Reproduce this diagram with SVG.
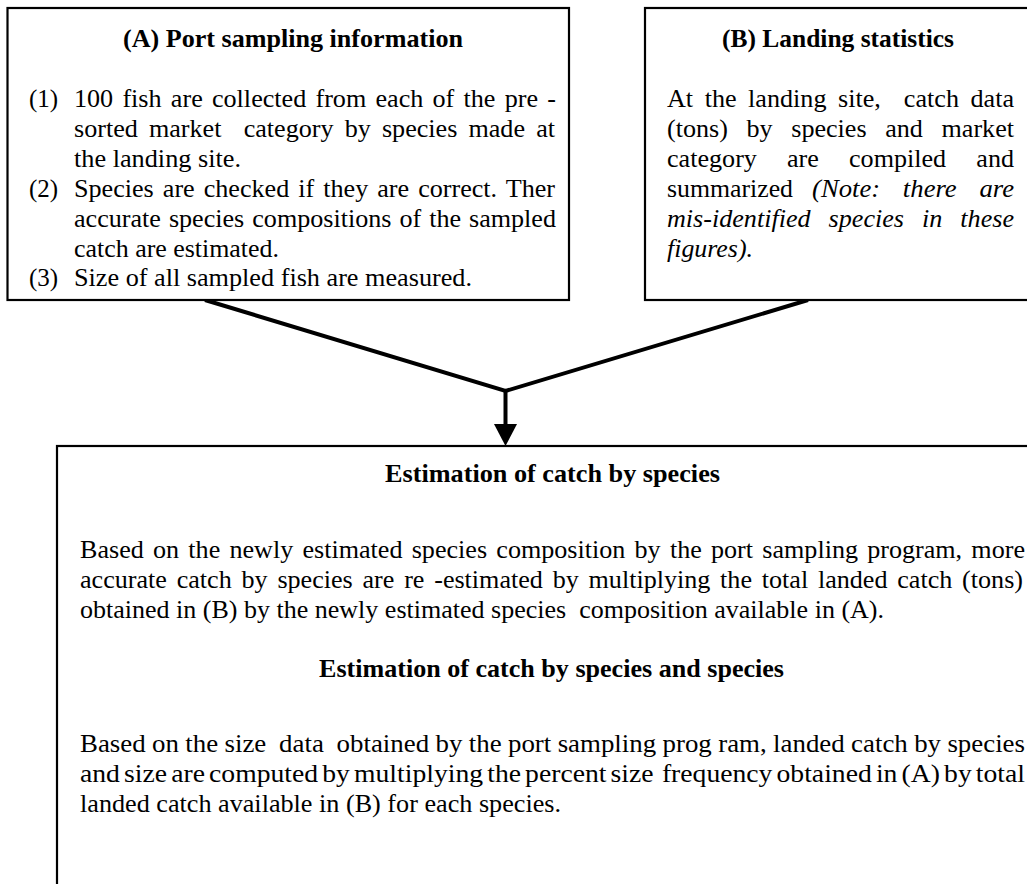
<svg xmlns="http://www.w3.org/2000/svg" width="1027" height="884" viewBox="0 0 1027 884">
  <style>
    .box { fill: #ffffff; stroke: #000000; stroke-width: 2.2; }
    .t { font-family: "Liberation Serif", "Times New Roman", serif; font-size: 25px; fill: #000000; }
    .b { font-weight: bold; }
    .i { font-style: italic; }
    .c { text-anchor: middle; }
    .conn { stroke: #000000; stroke-width: 4; fill: none; stroke-linejoin: miter; }
  </style>
  <defs>
    <marker id="arrow" markerUnits="userSpaceOnUse" markerWidth="23" markerHeight="24" refX="0" refY="11.5" orient="auto">
      <path d="M0,0 L22,11.5 L0,23 Z" fill="#000000"/>
    </marker>
  </defs>

  <rect width="1027" height="884" fill="#ffffff"/>

  <!-- Connectors: both source boxes merge into a single arrow -->
  <g id="connectors">
    <polyline class="conn" points="205,300 505.5,391 808,300"/>
    <line class="conn" x1="505.5" y1="391" x2="505.5" y2="424" marker-end="url(#arrow)"/>
  </g>

  <!-- (A) Port sampling information -->
  <g id="node-port-sampling">
    <rect class="box" x="7.5" y="8" width="561.5" height="292"/>
    <text class="t b c" x="293" y="47" textLength="340" lengthAdjust="spacingAndGlyphs">(A) Port sampling information</text>
    <text class="t" x="29" y="107">(1)</text>
    <text class="t" x="74" y="107" textLength="482" lengthAdjust="spacingAndGlyphs" style="word-spacing:2.6px">100 fish are collected from each of the pre -</text>
    <text class="t" x="74" y="137" textLength="481" lengthAdjust="spacingAndGlyphs" style="word-spacing:4.4px; white-space:pre">sorted market  category by species made at</text>
    <text class="t" x="74" y="167" textLength="167" lengthAdjust="spacingAndGlyphs">the landing site.</text>
    <text class="t" x="29" y="197">(2)</text>
    <text class="t" x="74" y="197" textLength="481" lengthAdjust="spacingAndGlyphs" style="word-spacing:2.4px">Species are checked if they are correct. Ther</text>
    <text class="t" x="74" y="227" textLength="482" lengthAdjust="spacingAndGlyphs" style="word-spacing:1.4px">accurate species compositions of the sampled</text>
    <text class="t" x="74" y="257" textLength="205" lengthAdjust="spacingAndGlyphs">catch are estimated.</text>
    <text class="t" x="29" y="286">(3)</text>
    <text class="t" x="74" y="286" textLength="398" lengthAdjust="spacingAndGlyphs">Size of all sampled fish are measured.</text>
  </g>

  <!-- (B) Landing statistics -->
  <g id="node-landing-statistics">
    <rect class="box" x="645" y="8" width="400" height="292"/>
    <text class="t b c" x="838" y="47" textLength="232" lengthAdjust="spacingAndGlyphs">(B) Landing statistics</text>
    <text class="t" x="667" y="107" textLength="347" lengthAdjust="spacingAndGlyphs" style="word-spacing:4.8px; white-space:pre">At the landing site,  catch data</text>
    <text class="t" x="667" y="137" textLength="347" lengthAdjust="spacingAndGlyphs" style="word-spacing:11.6px">(tons) by species and market</text>
    <text class="t" x="667" y="167" textLength="347" lengthAdjust="spacingAndGlyphs" style="word-spacing:22.6px">category are compiled and</text>
    <text class="t" x="667" y="197" textLength="126" lengthAdjust="spacingAndGlyphs">summarized</text>
    <text class="t i" x="812" y="197" textLength="202" lengthAdjust="spacingAndGlyphs" style="word-spacing:15px">(Note: there are</text>
    <text class="t i" x="667" y="227" textLength="347" lengthAdjust="spacingAndGlyphs" style="word-spacing:11px">mis-identified species in these</text>
    <text class="t i" x="667" y="257" textLength="86" lengthAdjust="spacingAndGlyphs">figures).</text>
  </g>

  <!-- Estimation of catch -->
  <g id="node-estimation">
    <rect class="box" x="57" y="446" width="1000" height="500"/>
    <text class="t b c" x="552.5" y="482" textLength="335" lengthAdjust="spacingAndGlyphs">Estimation of catch by species</text>
    <text class="t" x="80" y="558" textLength="945" lengthAdjust="spacingAndGlyphs" style="word-spacing:2.6px">Based on the newly estimated species composition by the port sampling program, more</text>
    <text class="t" x="80" y="588" textLength="943" lengthAdjust="spacingAndGlyphs" style="word-spacing:3.1px">accurate catch by species are re -estimated by multiplying the total landed catch (tons)</text>
    <text class="t" x="80" y="618" textLength="804" lengthAdjust="spacingAndGlyphs" style="white-space:pre">obtained in (B) by the newly estimated species  composition available in (A).</text>
    <text class="t b c" x="551.5" y="677" textLength="465" lengthAdjust="spacingAndGlyphs">Estimation of catch by species and species</text>
    <text class="t" x="80" y="752" textLength="945" lengthAdjust="spacingAndGlyphs" style="word-spacing:-0.3px; white-space:pre">Based on the size  data  obtained by the port sampling prog ram, landed catch by species</text>
    <text class="t" x="80" y="782" textLength="945" lengthAdjust="spacingAndGlyphs" style="word-spacing:-2.5px; white-space:pre">and size are computed by multiplying the percent size  frequency obtained in (A) by total</text>
    <text class="t" x="80" y="812" textLength="481" lengthAdjust="spacingAndGlyphs">landed catch available in (B) for each species.</text>
  </g>
</svg>
